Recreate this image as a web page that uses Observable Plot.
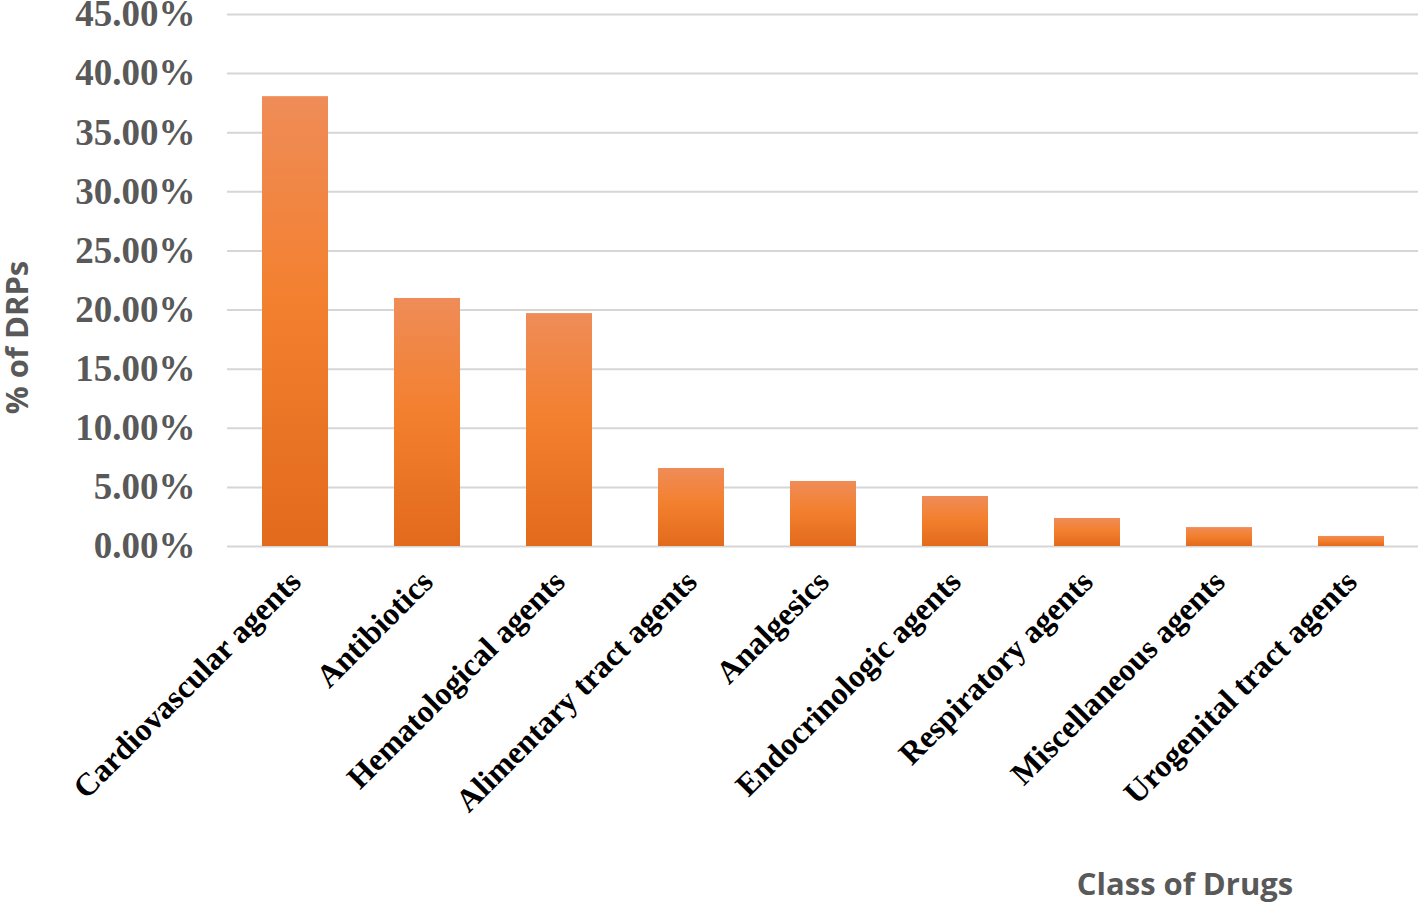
<!DOCTYPE html>
<html>
<head>
<meta charset="utf-8">
<script src="https://cdn.jsdelivr.net/npm/d3@7"></script>
<script src="https://cdn.jsdelivr.net/npm/@observablehq/plot@0.6"></script>
<style>
  html, body { margin: 0; padding: 0; background: #fff; }
  svg { display: block; }
</style>
</head>
<body>
<div id="chart"></div>
<script>
const categories = [
  "Cardiovascular agents", "Antibiotics", "Hematological agents",
  "Alimentary tract agents", "Analgesics", "Endocrinologic agents",
  "Respiratory agents", "Miscellaneous agents", "Urogenital tract agents"
];
const values = [0.3805, 0.2098, 0.1970, 0.0660, 0.0550, 0.0423, 0.0237, 0.0160, 0.0085];
const yTicks = [0, 0.05, 0.10, 0.15, 0.20, 0.25, 0.30, 0.35, 0.40, 0.45];

const data = categories.map((c, i) => ({category: c, value: values[i]}));

function defs() {
  const ns = "http://www.w3.org/2000/svg";
  const d = document.createElementNS(ns, "defs");
  const g = document.createElementNS(ns, "linearGradient");
  g.setAttribute("id", "barGrad");
  g.setAttribute("x1", "0"); g.setAttribute("y1", "0");
  g.setAttribute("x2", "0"); g.setAttribute("y2", "1");
  [["0%", "#ef8c58"], ["45%", "#f3802f"], ["100%", "#e26a1c"]].forEach(([o, c]) => {
    const s = document.createElementNS(ns, "stop");
    s.setAttribute("offset", o); s.setAttribute("stop-color", c);
    g.appendChild(s);
  });
  d.appendChild(g);
  const f = document.createElementNS(ns, "filter");
  f.setAttribute("id", "shadow");
  f.setAttribute("x", "-20%"); f.setAttribute("y", "-20%");
  f.setAttribute("width", "140%"); f.setAttribute("height", "140%");
  const ds = document.createElementNS(ns, "feDropShadow");
  ds.setAttribute("dx", "0"); ds.setAttribute("dy", "0");
  ds.setAttribute("stdDeviation", "2.5");
  ds.setAttribute("flood-color", "#000"); ds.setAttribute("flood-opacity", "0.3");
  f.appendChild(ds);
  d.appendChild(f);
  return d;
}

const chart = Plot.plot({
  width: 1418,
  height: 904,
  marginLeft: 227,
  marginRight: 0,
  marginTop: 14,
  marginBottom: 358,
  style: {background: "#fff", overflow: "visible"},
  x: {domain: categories, paddingInner: 0.5, paddingOuter: 0.25, label: null},
  y: {domain: [0, 0.45], label: null},
  marks: [
    defs,
    Plot.gridY(yTicks, {stroke: "#d6d6d6", strokeOpacity: 1, strokeWidth: 2}),
    Plot.barY(data, {x: "category", y: "value", fill: "url(#barGrad)", style: "filter:url(#shadow)"}),
    Plot.axisY(yTicks, {
      tickSize: 0, tickPadding: 32,
      tickFormat: d => (d * 100).toFixed(2) + "%",
      fontSize: 37, fontWeight: "bold", fontFamily: "Liberation Serif",
      fill: "#595959", label: null
    }),
    Plot.axisX({
      tickSize: 0, tickRotate: -45, tickPadding: 30,
      fontSize: 32, fontWeight: "bold", fontFamily: "Liberation Serif",
      fill: "#000", label: null
    }),
    Plot.text(["% of DRPs"], {
      frameAnchor: "left", textAnchor: "middle", dx: -209, dy: 57, rotate: -90,
      fontSize: 31, fontWeight: "bold", fontFamily: "Open Sans", fill: "#595959"
    }),
    Plot.text(["Class of Drugs"], {
      frameAnchor: "bottom", textAnchor: "middle", dx: 362, dy: 348,
      fontSize: 31, fontWeight: "bold", fontFamily: "Open Sans", fill: "#595959"
    })
  ]
});
document.getElementById("chart").appendChild(chart);
</script>
</body>
</html>
